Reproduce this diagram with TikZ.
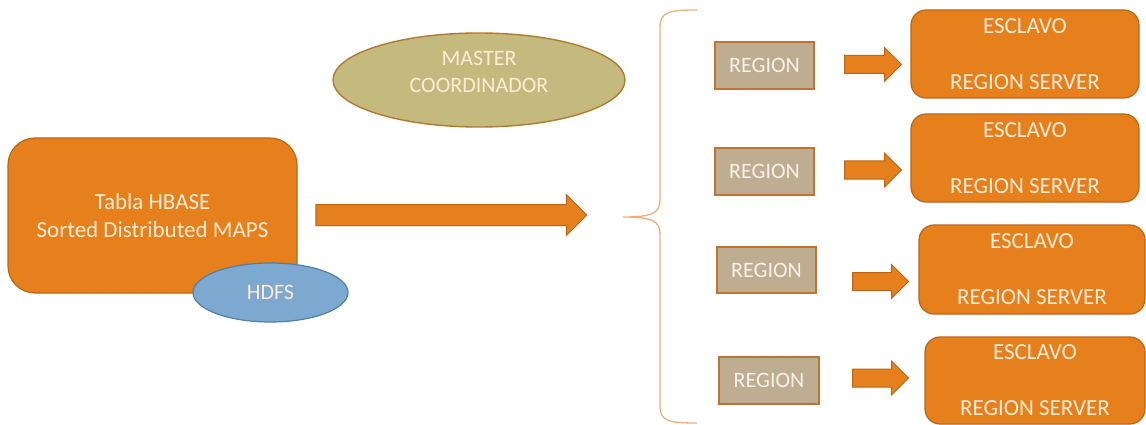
\documentclass[tikz,border=0pt]{standalone}
\usepackage{fontspec}
\setmainfont{Carlito}
\usetikzlibrary{shapes.geometric,shapes.arrows}

\definecolor{boxorange}{HTML}{E6801C}
\definecolor{boxedge}{HTML}{B8661A}
\definecolor{paletext}{HTML}{FCEBD6}
\definecolor{regionfill}{HTML}{BFAD92}
\definecolor{regionedge}{HTML}{BF7434}
\definecolor{regiontext}{HTML}{F6F1EA}
\definecolor{masterfill}{HTML}{C5BA7E}
\definecolor{masteredge}{HTML}{B07A30}
\definecolor{hdfsfill}{HTML}{7DA8CF}
\definecolor{hdfsedge}{HTML}{4F7FAD}
\definecolor{bracecol}{HTML}{E9B27C}

\tikzset{
  orangebox/.style={draw=boxedge, fill=boxorange, line width=1.2pt,
    rounded corners=15pt, text=paletext, align=center,
    font=\fontsize{23}{28}\selectfont, inner sep=0pt},
  regionbox/.style={draw=regionedge, fill=regionfill, line width=1.2pt,
    text=regiontext, font=\fontsize{22}{26}\selectfont, inner sep=0pt,
    minimum width=99pt, minimum height=47pt},
  slavebox/.style={orangebox},
  bigarrow/.style={single arrow, draw=boxedge, fill=boxorange, line width=1pt,
    inner xsep=0pt, inner ysep=10pt, minimum height=271pt,
    single arrow head extend=10pt, single arrow tip angle=90,
    single arrow head indent=0pt},
  smallarrow/.style={single arrow, draw=boxedge, fill=boxorange, line width=1pt,
    inner xsep=0pt, inner ysep=8.5pt, minimum height=#1,
    single arrow head extend=8pt, single arrow tip angle=90,
    single arrow head indent=0pt},
  ovaltxt/.style={text=paletext, align=center, font=\fontsize{22}{27}\selectfont, inner sep=0pt},
  bracestyle/.style={draw=bracecol, line width=1.3pt}
}

\begin{document}
\begin{tikzpicture}[x=1pt, y=-1pt]
  \clip (0,0) rectangle (1146,425);
  \fill[white] (0,0) rectangle (1146,425);

  % HBase table and its HDFS storage
  \node[orangebox, rounded corners=27pt, minimum width=289pt, minimum height=155pt]
    (hbase) at (152.5,215.5) {Tabla HBASE\\Sorted Distributed MAPS};
  \node[ellipse, draw=hdfsedge, fill=hdfsfill, line width=1.2pt,
    minimum width=155pt, minimum height=59pt, inner sep=0pt,
    text=paletext, font=\fontsize{22}{26}\selectfont]
    (hdfs) at (270.5,292.5) {HDFS};

  % master coordinator
  \node[ellipse, draw=masteredge, fill=masterfill, line width=1.4pt,
    minimum width=292pt, minimum height=94pt, inner sep=0pt] (master) at (479,80) {};
  \node[ovaltxt] (mastertxt) at ([yshift=8.5pt]master.center) {MASTER\\COORDINADOR};

  % distribution arrow
  \node[bigarrow] (distarrow) at (446,215) {};

  % brace grouping the regions
  \draw[bracestyle] (697,10) .. controls (668,10) and (660,12) .. (660,28)
    -- (660,200) .. controls (660,213) and (652,217) .. (623,217)
    .. controls (652,217) and (660,221) .. (660,234)
    -- (660,406) .. controls (660,421) and (668,423) .. (697,423);

  % regions
  \node[regionbox] (reg1) at (764.5,65.5) {REGION};
  \node[regionbox] (reg2) at (764.5,171.5) {REGION};
  \node[regionbox, minimum height=46pt] (reg3) at (766.5,270) {REGION};
  \node[regionbox, minimum width=100pt] (reg4) at (769,380.5) {REGION};

  % assignment arrows
  \node[smallarrow=57pt] (arr1) at (868.5,64.5) {};
  \node[smallarrow=57pt] (arr2) at (868.5,170) {};
  \node[smallarrow=56pt] (arr3) at (876,281.5) {};
  \node[smallarrow=56pt] (arr4) at (876,378) {};

  % region servers
  \node[slavebox, minimum width=228pt, minimum height=88pt] (srv1) at (1025,54)
    {ESCLAVO\\[28pt]REGION SERVER};
  \node[slavebox, minimum width=228pt, minimum height=88pt] (srv2) at (1025,158)
    {ESCLAVO\\[28pt]REGION SERVER};
  \node[slavebox, minimum width=226pt, minimum height=89pt] (srv3) at (1032,269.5)
    {ESCLAVO\\[28pt]REGION SERVER};
  \node[slavebox, minimum width=220pt, minimum height=87pt] (srv4) at (1035,380.5)
    {ESCLAVO\\[28pt]REGION SERVER};
\end{tikzpicture}
\end{document}
